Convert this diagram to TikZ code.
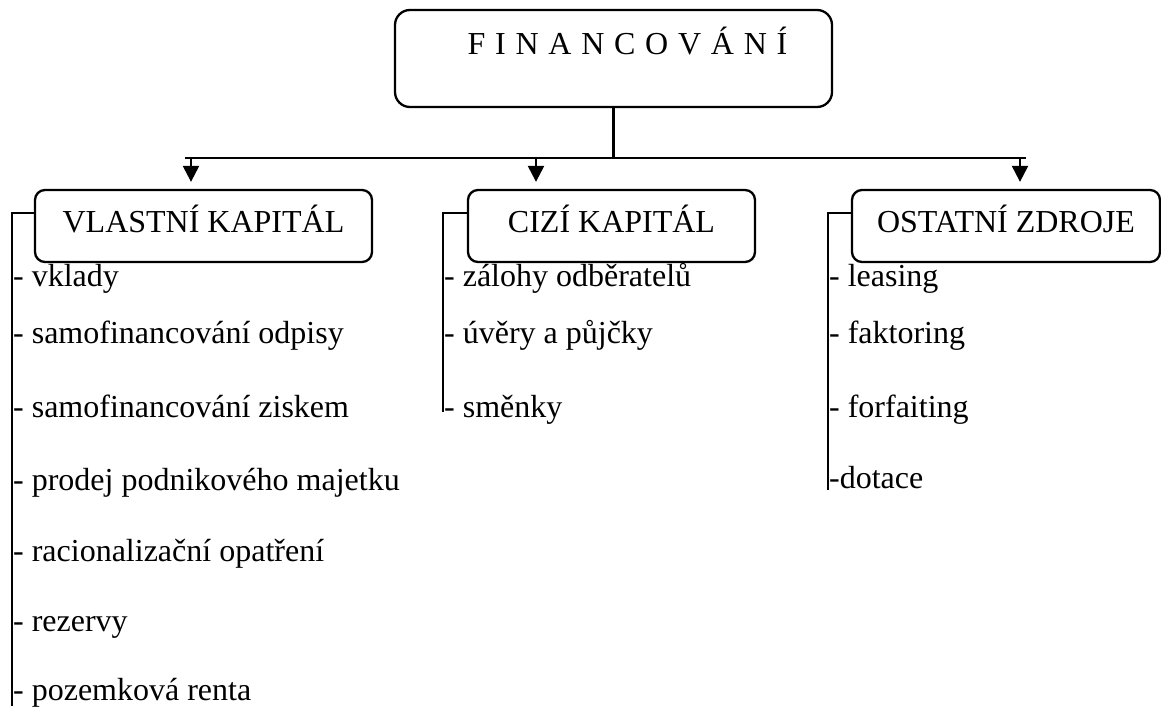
\documentclass[tikz,border=0pt]{standalone}
\usepackage{fontspec}
\setmainfont{Liberation Serif}
\usetikzlibrary{arrows.meta}

\begin{document}
\begin{tikzpicture}[x=1pt, y=-1pt, line width=2.3pt,
    font=\fontsize{32}{38}\selectfont,
    topbox/.style={draw, rounded corners=15pt, inner sep=0pt, minimum width=437pt, minimum height=97pt},
    srcbox/.style={draw, rounded corners=10pt, inner sep=0pt, text height=43pt, text depth=29pt},
    item/.style={anchor=base west, inner sep=0pt},
    arr/.style={-{Triangle[length=16pt,width=16pt]}}]
    \useasboundingbox (0,0) rectangle (1161,708);

    % hlavni box
    \node[topbox] (fin) at (613.5,58.5) {};
    \node[anchor=base, inner sep=0pt] (fintitle) at (627.5,55) {\spaceskip=0.305em\relax F I N A N C O V Á N Í};

    % zdroje
    \node[srcbox, minimum width=337pt] (vk) at (203.5,226) {VLASTNÍ KAPITÁL};
    \node[srcbox, minimum width=287pt] (ck) at (611.5,226) {CIZÍ KAPITÁL};
    \node[srcbox, minimum width=308pt] (oz) at (1006,226) {OSTATNÍ ZDROJE};

    % rozvod
    \coordinate (bus) at (613.5,158);
    \coordinate (busL) at (185,158);
    \coordinate (busR) at (1026,158);
    \draw (fin.south) -- (bus);
    \draw (busL) -- (busR);
    \coordinate (vktip) at ([xshift=-12.5pt,yshift=7pt]vk.north);
    \coordinate (cktip) at ([xshift=-75.5pt,yshift=7pt]ck.north);
    \coordinate (oztip) at ([xshift=14pt,yshift=7pt]oz.north);
    \foreach \t in {vktip,cktip,oztip}
        \draw[arr] (\t |- bus) -- (\t);

    % zavorky
    \coordinate (vkend) at (12,706);
    \coordinate (ckend) at (443,412);
    \coordinate (ozend) at (828,490);
    \draw ([yshift=13pt]vk.west) -| (vkend);
    \draw ([yshift=13pt]ck.west) -| (ckend);
    \draw ([yshift=13pt]oz.west) -| (ozend);

    % polozky
    \foreach \txt/\y [count=\i] in {vklady/287, samofinancování odpisy/344,
        samofinancování ziskem/417, prodej podnikového majetku/490,
        racionalizační opatření/561, rezervy/631, pozemková renta/700}
        \node[item] (vk\i) at (12,\y) {- \txt};
    \foreach \txt/\y [count=\i] in {zálohy odběratelů/287, úvěry a půjčky/343, směnky/417}
        \node[item] (ck\i) at (443,\y) {- \txt};
    \foreach \txt/\y [count=\i] in {- leasing/287, - faktoring/343, - forfaiting/417, -dotace/488}
        \node[item] (oz\i) at (828,\y) {\txt};
\end{tikzpicture}
\end{document}
